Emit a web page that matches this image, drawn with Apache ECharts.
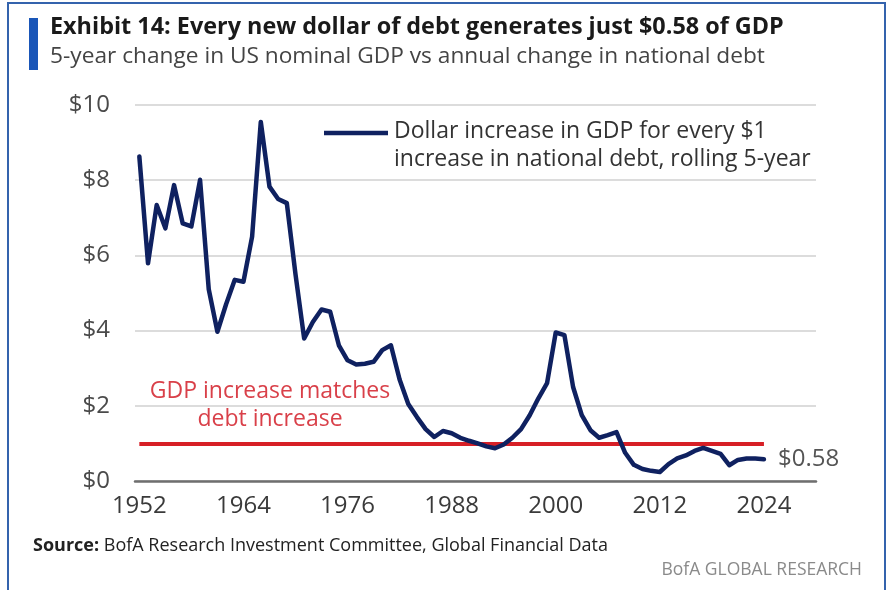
<!DOCTYPE html>
<html>
<head>
<meta charset="utf-8">
<script src="https://cdn.jsdelivr.net/npm/echarts@6/dist/echarts.min.js"></script>
<style>
  html, body { margin: 0; padding: 0; background: #ffffff; }
  #chart { width: 892px; height: 590px; }
</style>
</head>
<body>
<div id="chart"></div>
<script>
// Years of the rolling 5-year window
const years = [
  1952, 1953, 1954, 1955, 1956, 1957, 1958, 1959, 1960, 1961,
  1962, 1963, 1964, 1965, 1966, 1967, 1968, 1969, 1970, 1971,
  1972, 1973, 1974, 1975, 1976, 1977, 1978, 1979, 1980, 1981,
  1982, 1983, 1984, 1985, 1986, 1987, 1988, 1989, 1990, 1991,
  1992, 1993, 1994, 1995, 1996, 1997, 1998, 1999, 2000, 2001,
  2002, 2003, 2004, 2005, 2006, 2007, 2008, 2009, 2010, 2011,
  2012, 2013, 2014, 2015, 2016, 2017, 2018, 2019, 2020, 2021,
  2022, 2023, 2024
];

// Dollar increase in GDP for every $1 increase in national debt
const gdpPerDebtDollar = [
  8.63, 5.79, 7.34, 6.72, 7.87, 6.85, 6.77, 8.01, 5.10, 3.97,
  4.70, 5.35, 5.30, 6.50, 9.55, 7.83, 7.50, 7.39, 5.50, 3.79,
  4.23, 4.56, 4.50, 3.61, 3.21, 3.10, 3.12, 3.17, 3.48, 3.61,
  2.70, 2.05, 1.70, 1.38, 1.17, 1.33, 1.27, 1.15, 1.07, 1.00,
  0.92, 0.87, 0.97, 1.15, 1.38, 1.75, 2.20, 2.60, 3.95, 3.88,
  2.50, 1.75, 1.35, 1.15, 1.22, 1.30, 0.75, 0.43, 0.32, 0.27,
  0.24, 0.45, 0.60, 0.68, 0.80, 0.88, 0.80, 0.72, 0.42, 0.56,
  0.60, 0.60, 0.58
];

// Break-even level: GDP increase equals debt increase
const breakEven = 1;

const xTickYears = [1952, 1964, 1976, 1988, 2000, 2012, 2024];
const yTicks = [0, 2, 4, 6, 8, 10];

const seriesName = 'Dollar increase in GDP for every $1\nincrease in national debt, rolling 5-year';
const FONT = '"Open Sans", "Noto Sans", sans-serif';

const chart = echarts.init(document.getElementById('chart'), null, { renderer: 'canvas' });

chart.setOption({
  backgroundColor: '#ffffff',
  animation: false,
  grid: { left: 135, right: 76, top: 105, bottom: 109 },
  xAxis: {
    type: 'value',
    min: 1951.5,
    max: 2030,
    axisLine: { show: true, lineStyle: { color: '#6f6f6f', width: 2.5 } },
    axisTick: { show: false },
    splitLine: { show: false },
    axisLabel: {
      customValues: xTickYears,
      formatter: v => String(v),
      color: '#3a3a3a',
      fontSize: 24,
      fontFamily: FONT,
      margin: 13
    }
  },
  yAxis: {
    type: 'value',
    min: yTicks[0],
    max: yTicks[yTicks.length - 1],
    interval: 2,
    axisLine: { show: false },
    axisTick: { show: false },
    splitLine: { lineStyle: { color: '#dcdcdc', width: 2 } },
    axisLabel: {
      formatter: v => '$' + v,
      color: '#4a4a4a',
      fontSize: 24,
      fontFamily: FONT,
      margin: 25
    }
  },
  series: [{
    name: seriesName,
    type: 'line',
    data: years.map((y, i) => [y, gdpPerDebtDollar[i]]),
    showSymbol: false,
    symbol: 'none',
    lineStyle: { color: '#0f2160', width: 4.5, join: 'round', cap: 'round' },
    z: 3,
    endLabel: {
      show: true,
      formatter: p => '$' + p.value[1].toFixed(2),
      color: '#555555',
      fontSize: 24,
      fontFamily: FONT,
      distance: 14
    },
    markLine: {
      silent: true,
      symbol: ['none', 'none'],
      label: { show: false },
      lineStyle: { color: '#d71f26', width: 4, type: 'solid' },
      z: 2,
      data: [[
        { coord: [years[0], breakEven] },
        { coord: [years[years.length - 1], breakEven] }
      ]]
    }
  }],
  graphic: [
    // frame
    { type: 'rect', shape: { x: 8, y: 3, width: 877, height: 600 },
      style: { fill: 'none', stroke: '#3463ad', lineWidth: 2 }, silent: true },
    // title marker bar
    { type: 'rect', shape: { x: 29, y: 18, width: 9, height: 52 },
      style: { fill: '#1a56b8' } },
    { type: 'text', left: 50, top: 16,
      style: { text: 'Exhibit 14: Every new dollar of debt generates just $0.58 of GDP',
        fill: '#1a1a1a', font: 'bold 23.4px ' + FONT } },
    { type: 'text', left: 50, top: 45,
      style: { text: '5-year change in US nominal GDP vs annual change in national debt',
        fill: '#444444', font: '22.7px ' + FONT } },
    // series key
    { type: 'line', shape: { x1: 324, y1: 133, x2: 388, y2: 133 },
      style: { stroke: '#0f2160', lineWidth: 4.5 } },
    { type: 'text', left: 394, top: 117,
      style: { text: seriesName, fill: '#333333', font: '23px ' + FONT, lineHeight: 28 } },
    // break-even note, centred lines
    { type: 'text', x: 270, y: 377,
      style: { text: 'GDP increase matches\ndebt increase', fill: '#d94049',
        font: '23px ' + FONT, lineHeight: 28, align: 'center', verticalAlign: 'top' } },
    // footer
    { type: 'text', left: 33, top: 537,
      style: { text: '{b|Source:} BofA Research Investment Committee, Global Financial Data',
        fill: '#222222', font: '18px ' + FONT,
        rich: { b: { fontWeight: 'bold', fontSize: 18, fontFamily: FONT, fill: '#222222' } } } },
    { type: 'text', right: 30, top: 561,
      style: { text: 'BofA GLOBAL RESEARCH', fill: '#8a8a8a', font: '17.5px ' + FONT } }
  ]
});
</script>
</body>
</html>
